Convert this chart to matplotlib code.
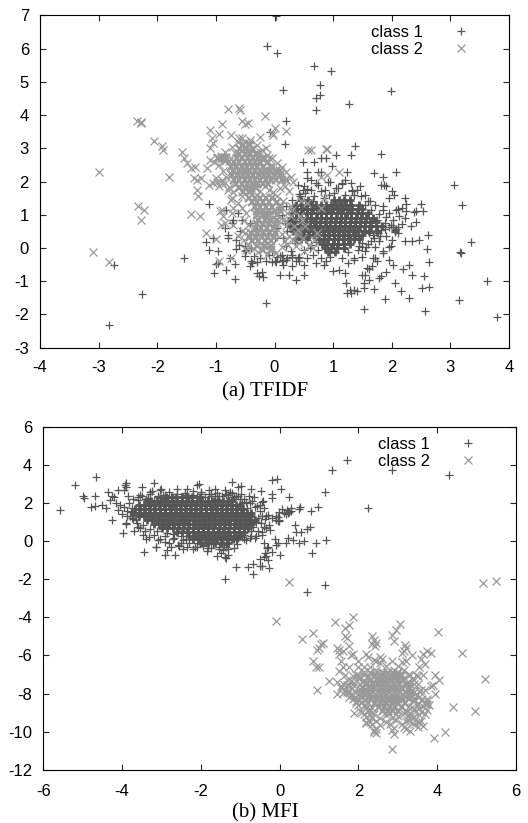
import numpy as np
import matplotlib
matplotlib.use('Agg')
import matplotlib.pyplot as plt

# points (dense cores are estimates)
a1_x = [0.03,-0.12,0.05,0.68,0.97,0.15,0.78,0.77,0.71,0.7,1.27,1.98,0.2,-0.08,0.18,1.37,1.05,1.3,1.82,0.8,0.88,0.48,0.98,2.07,1.23,0.75,0.8,0.55,
 3.07,3.2,3.35,3.17,3.18,3.63,3.15,3.79,2.56,2.63,2.52,2.55,2.63,2.6,2.62,2.5,2.53,2.42,2.38,2.47,2.35,2.33,2.3,2.41,2.22,2.25,2.18,2.04,2.1,2.0,1.87,1.9,1.85,
 2.22,2.3,2.35,2.2,2.15,2.05,2.02,1.95,1.88,1.82,1.78,1.7,1.66,1.62,1.55,1.5,1.52,1.53,1.41,1.36,1.28,1.22,1.23,1.3,1.52,1.9,1.75,1.62,1.58,1.68,1.85,1.95,
 -2.73,-2.82,-2.26,-1.54,-1.12,-0.15,-0.2,-0.26,-0.22,-0.67,-0.82,-1.0,-1.03,-0.96,-0.68,-0.65,-0.42,-0.4,-0.5,-0.76,-1.05,-1.16,-1.12,-0.97,-0.8,-0.82,-0.7,-0.62,-0.55,-0.48,-0.3,-0.1,0.0,0.1,0.14,0.25,0.37,0.5,
 -0.42,-0.3,-0.15,0.12,0.22,0.3,0.42,0.5,0.55,0.7,0.85,0.87,1.0,1.1,1.2,1.25,1.35,0.3,0.36,0.4,-0.5,-0.6,-0.65,-0.8,-0.85,-0.72,-0.58,
 1.55,1.63,1.7,1.82,1.85,1.4,1.3,1.2,1.05,0.92,0.75,0.68,0.55,1.95,1.98,2.1,2.22,2.25,2.05,1.8,1.62,1.45,1.33,1.15,1.02,0.86,0.7,0.62,0.5,0.44,0.52,0.48,
 1.2,1.3,1.42,1.5,1.65,1.76,1.82,1.88,1.7,1.56,1.44,0.3,0.2,0.12,0.02,-0.05,-0.15,-0.3,-0.38,-0.5,-0.35,-0.25,-0.4,0.05,0.15,2.02,2.07,2.1,2.06]
a1_y = [6.97,6.07,5.87,5.48,5.32,4.75,4.9,4.6,4.52,4.15,4.33,4.73,3.82,3.48,3.13,3.08,2.8,2.8,2.83,2.7,2.7,2.58,2.48,2.3,2.3,2.3,2.3,2.3,
 1.9,1.28,0.17,-0.13,-0.15,-0.98,-1.55,-2.07,-1.9,-1.17,-1.2,-0.85,-0.42,-0.03,0.4,1.33,1.12,1.1,1.08,0.25,0.22,0.65,-0.5,0.78,1.5,1.33,1.2,1.6,1.18,1.72,1.88,1.85,2.15,
 0.2,-1.5,-0.8,-0.63,-1.3,-1.05,-0.52,-0.35,-1.52,-0.85,-0.9,-1.22,-0.55,-0.62,-0.82,-0.8,-1.05,-1.2,-1.28,-1.25,-1.25,-1.05,-1.35,-1.35,-1.83,-0.72,-0.4,-0.95,-0.6,-0.3,-0.1,0.02,
 -0.5,-2.33,-1.37,-0.3,1.33,-1.66,-0.88,-0.85,-0.72,-0.92,-0.65,-0.48,-0.75,-0.1,-0.48,-0.02,-0.55,-0.4,-0.25,-0.3,0.3,0.17,-0.05,-0.45,0.3,1.15,0.85,1.05,0.85,-0.05,-0.75,-0.2,-0.4,-0.8,-0.5,-0.8,-0.95,-0.82,
 0.75,0.5,0.9,-0.2,-0.3,-0.55,-0.4,-0.5,-0.3,-0.45,-0.5,-0.4,-0.7,-0.65,-0.75,-0.45,-0.35,-0.2,-0.38,-0.3,0.05,0.1,0.25,0.4,0.6,0.75,0.5,
 1.6,1.4,2.25,1.9,1.25,1.75,1.95,2.05,1.8,2.0,1.9,2.6,2.1,1.5,0.7,0.45,0.9,1.1,0.5,0.35,0.45,1.85,1.7,1.92,1.65,1.75,1.95,1.75,1.85,1.55,1.65,1.75,
 0.48,0.3,0.35,0.15,0.22,0.45,0.62,0.58,0.3,0.02,0.05,-0.28,-0.35,-0.4,-0.42,-0.42,-0.38,-0.42,-0.45,-0.1,-0.25,-0.3,0.0,-0.28,-0.35,0.62,0.58,0.62,0.55]
a2_x = [-3.1,-2.82,-3.0,-2.35,-2.28,-2.27,-2.05,-1.92,-1.9,-1.8,-2.33,-2.22,-2.28,-1.57,-1.55,-1.5,-1.43,-1.42,-1.35,-1.33,-1.3,-1.25,-1.27,-1.32,
 -1.38,-1.1,-1.07,-1.05,-1.1,-0.95,-0.9,-0.8,-0.6,-0.58,-0.55,-0.5,-0.45,-0.17,-0.05,0.0,-0.02,0.2,-0.25,-0.75,
 0.57,0.62,0.87,0.9,1.1,0.8,0.9,0.45,0.55,0.8,0.85,-0.9,-0.92,-0.93,-0.88,-1.17,-1.1,-1.03,-1.0,-1.12,-1.05,-1.15,-0.98,-0.95,-0.8,-0.75,-0.7,-0.72,
 -0.98,-0.92,-0.88,-0.85,-0.82,-0.9,-0.85,-0.6,-0.57,-0.5,-0.48,-0.44,-0.52,-0.47,-0.55,-0.4,-0.3,-0.25,-0.2,-0.15,-0.1,
 0.2,0.28,0.33,0.4,0.47,0.52,0.25,0.32,0.38,0.48,0.22,0.36,0.42,0.6,0.66,0.68,0.72,0.5,0.44,0.3,-0.55,-0.62,-0.7,-0.48,-0.95,-0.85,-0.75,-1.0]
a2_y = [-0.12,-0.42,2.28,3.82,3.78,3.75,3.22,3.08,2.95,2.15,1.25,1.13,0.83,2.9,2.7,2.55,2.4,1.03,2.45,2.05,1.55,2.1,0.95,1.75,
 2.1,3.55,3.3,3.15,3.0,3.42,3.72,4.18,4.2,4.15,3.82,3.72,3.75,3.97,3.45,3.6,3.4,3.52,3.35,3.4,
 2.95,2.95,2.98,2.98,2.3,2.15,2.2,1.4,1.35,1.2,1.5,1.15,0.7,1.1,0.95,0.45,2.65,2.6,2.1,1.9,1.95,2.4,2.0,1.85,1.75,1.45,1.2,1.05,
 2.72,2.78,2.7,2.75,2.66,2.05,1.95,3.3,3.1,3.2,3.05,3.15,3.0,2.9,3.3,2.95,2.85,2.9,2.65,3.0,2.7,
 0.8,0.95,0.65,0.55,0.85,0.65,0.35,0.25,0.42,0.3,0.12,0.05,0.15,0.1,0.0,0.25,0.45,-0.1,0.95,1.15,0.5,0.35,0.7,-0.05,-0.4,0.75,-0.3,0.28]

b1_x = [-5.57,-5.2,-4.65,-5.0,-4.97,-4.68,-4.8,-4.7,-4.5,-4.4,-4.35,-4.3,-4.25,-4.25,-4.2,-4.1,-4.05,-3.95,-3.93,-3.9,-3.9,-3.88,-3.85,-3.98,-3.9,-3.7,-3.6,-3.5,-3.47,-3.45,-3.25,-3.2,-3.15,
 -3.0,-2.9,-2.85,-2.65,-2.45,-2.35,-2.2,-2.05,-1.85,-1.63,-1.45,-1.38,-1.35,-1.2,-1.12,-0.97,-0.8,-0.73,-0.68,-0.68,-0.45,-0.2,-0.5,-0.45,-0.4,-0.3,-0.28,-0.2,-0.2,-0.07,0.03,0.02,
 0.25,0.3,0.5,0.52,0.8,0.97,1.15,1.33,1.72,2.25,2.85,4.3,1.15,1.18,0.82,0.7,0.48,0.55,0.42,0.38,0.22,0.7,0.78,0.92,0.62,0.35,0.15,-0.02,-0.1,-0.2,-0.33,-0.38,-0.1,-0.05,-0.02,0.05,0.1,0.2,0.24,0.3,0.15,0.22,0.18,
 -2.1,-1.75,-1.7,-1.6,-1.47,-1.35,-1.2,-1.05,-0.97,-0.78,-0.65,-0.5,-0.42,-0.47,-0.58,-0.4,-0.35,-0.3,-0.2,-0.28,-0.1,-0.05,
 -3.5,-3.3,-3.1,-2.95,-2.75,-2.6,-2.4,-2.2,-2.0,-1.8,-1.65,-1.3,-1.25,-1.2,-1.1,-1.0,-0.85,-0.7,-1.3,-1.4,-1.5,-1.6,-3.6,-3.4,-3.2,-3.05,-2.9,-2.7,-2.5,-2.3,-2.1,-1.9,
 -3.4,-3.1,-2.9,-2.7,-2.5,-2.3,-2.1,-1.9,-1.7,-1.5,-1.3,-1.1,-0.9,-0.75,-0.6,-0.45,-0.35,-3.15,-2.75,-2.55,-2.35,-2.15,-1.95,-1.75,-1.55,-1.35,-0.25,-0.12,-0.05,-0.02,-0.35,-0.5,-0.3,-0.4,-3.9,-4.0,-4.1,-4.15,-3.75]
b1_y = [1.63,2.95,3.37,2.4,2.25,2.35,1.8,1.87,1.9,1.75,2.6,2.15,2.4,1.1,2.3,2.7,1.9,2.7,2.95,3.05,2.85,1.35,2.4,0.42,0.9,0.55,0.75,2.85,0.35,-0.55,2.65,3.05,-0.3,
 2.75,-0.7,-0.45,-0.7,-0.42,2.75,-0.4,3.0,-0.5,2.75,-0.45,-1.98,-0.9,3.1,-1.35,2.9,-1.35,2.75,-1.2,-1.7,-1.3,3.2,-1.3,2.05,-0.85,-1.0,-1.4,2.5,2.25,3.25,2.75,-0.7,
 2.3,1.75,1.7,1.8,1.6,1.8,2.6,3.75,4.25,1.75,3.75,3.5,-2.3,0.05,-0.6,-2.65,-0.1,0.5,0.5,0.85,0.15,0.65,0.75,-0.1,0.0,0.05,-0.1,1.55,-0.2,-0.55,-0.35,-0.6,1.1,1.25,1.05,1.7,1.5,1.5,1.55,1.6,1.45,1.55,1.65,
 2.95,2.5,1.95,2.2,2.4,2.5,2.3,2.85,2.5,2.35,2.3,1.9,2.1,2.65,1.85,1.75,1.3,1.4,1.2,0.85,1.3,1.05,
 2.35,2.5,2.4,2.45,2.3,2.5,2.55,2.45,2.6,2.5,2.35,2.45,2.6,2.2,2.4,2.2,2.05,2.1,-0.7,-0.85,-0.6,-0.75,2.15,2.2,2.15,2.25,2.2,2.25,2.3,2.25,2.35,2.3,
 0.1,0.05,-0.05,0.1,-0.1,0.1,-0.1,0.1,-0.1,0.1,-0.1,0.05,0.1,0.15,0.3,0.5,0.7,-0.3,-0.3,-0.25,-0.3,-0.3,-0.25,-0.35,-0.3,-0.3,0.6,0.1,-0.1,1.1,-0.8,-0.95,-0.3,-0.1,0.95,1.45,1.65,2.0,1.2]
b2_x = [-0.1,0.25,5.15,5.5,5.22,4.95,4.62,4.4,4.2,3.92,4.02,4.05,3.95,3.85,1.75,1.85,1.65,1.4,1.65,1.5,0.85,0.58,0.95,1.0,1.05,1.1,0.85,0.92,1.0,0.95,1.25,
 2.35,2.4,2.35,2.45,2.42,2.85,2.95,3.05,2.9,3.15,3.2,3.1,3.17,3.35,3.65,3.75,3.85,3.6,3.55,3.7,3.45,3.9,3.95,3.75,3.8,2.85,2.9,2.45,2.4,2.85,2.3,3.5,3.55,3.65,3.2,3.4,3.25,
 1.45,1.5,1.55,1.6,1.7,1.75,1.8,1.85,1.6,1.5,1.65,1.75,1.45,1.55,1.7,2.0,2.15,2.25,2.3,2.45,1.85,1.95,2.05,2.2,1.45,1.55,1.65,1.75,1.9,2.05,1.7,1.85,1.95,2.1,2.25,
 1.6,1.75,1.9,2.05,2.2,2.35,3.1,3.25,3.4,1.75,1.9,2.05,3.25,3.4,3.55,3.7,1.9,2.05,3.4,3.55,
 2.0,3.5,3.65,3.75,2.1,2.25,3.3,3.45,3.6,3.75,2.2,2.35,3.25,3.4,3.55,3.7,
 2.2,2.3,3.35,2.15,2.3,3.3,2.2,2.45,2.7,2.95,3.2,3.35,3.5,2.4,2.55,3.2,
 2.0,2.15,2.3,3.3,3.5,3.65,1.95,2.1,2.25,3.4,3.6,3.75,2.2,2.35,2.55,2.8,3.1,3.35,3.6,2.4,2.45,2.9,3.15,3.3]
b2_y = [-4.17,-2.12,-2.2,-2.1,-7.22,-8.9,-5.85,-8.7,-10.0,-10.35,-4.75,-7.3,-7.05,-7.6,-4.4,-4.0,-4.55,-4.25,-5.0,-5.7,-4.8,-5.15,-5.7,-5.6,-5.4,-5.35,-6.3,-6.6,-6.6,-7.8,-7.35,
 -5.0,-5.2,-5.4,-5.35,-5.5,-4.95,-4.65,-4.35,-5.25,-5.75,-5.6,-5.85,-5.45,-6.0,-5.9,-5.75,-5.85,-6.2,-6.6,-6.45,-7.0,-7.55,-8.0,-8.3,-8.6,-10.9,-10.15,-9.85,-10.0,-9.9,-9.5,-9.75,-9.5,-9.7,-9.85,-9.6,-9.4,
 -5.6,-5.9,-6.3,-5.75,-5.1,-5.5,-6.0,-5.9,-6.6,-6.8,-7.0,-6.6,-7.4,-7.7,-7.9,-6.3,-6.6,-6.1,-6.85,-6.3,-8.3,-8.5,-7.2,-5.9,-8.0,-7.6,-7.85,-8.2,-9.0,-8.9,-7.3,-7.1,-7.0,-7.4,-7.2,
 -7.5,-7.55,-7.45,-7.5,-7.4,-7.5,-7.35,-7.4,-7.5,-7.9,-7.85,-7.95,-7.8,-7.9,-7.85,-7.8,-8.25,-8.2,-8.3,-8.2,
 -8.6,-8.55,-8.65,-8.55,-8.95,-8.9,-9.0,-8.9,-8.95,-8.85,-9.25,-9.3,-9.2,-9.25,-9.15,-9.1,
 -8.75,-8.8,-8.7,-9.1,-9.15,-9.05,-9.5,-9.45,-9.5,-9.4,-9.45,-9.3,-9.5,-6.25,-6.1,-6.3,
 -7.05,-7.0,-6.9,-7.0,-7.1,-7.0,-8.4,-8.45,-8.5,-8.4,-8.35,-8.4,-9.55,-9.6,-9.65,-9.6,-9.6,-9.55,-9.45,-9.9,-10.05,-9.8,-9.75,-9.95]

# thinner scatter right around the blobs
a1_halo = [(0.42,1.62),(0.55,1.78),(0.68,1.55),(0.8,1.72),(0.93,1.58),(1.08,1.8),(1.2,1.6),(1.33,1.75),(1.47,1.55),(1.6,1.42),(1.72,1.3),(1.85,1.15),(1.95,1.05),(2.02,0.85),
 (1.95,0.62),(2.05,0.48),(1.9,0.35),(1.78,0.22),(1.68,0.38),(1.6,0.12),(1.72,0.02),(1.55,-0.1),(1.42,-0.05),(1.5,-0.28),(1.35,-0.3),(1.25,-0.12),(1.15,-0.3),(0.75,-0.05),(0.65,-0.22),(0.62,0.08),
 (0.5,-0.05),(0.42,-0.28),(0.35,0.15),(0.28,-0.1),(0.2,0.05),(0.22,0.5),(0.15,0.3),(0.18,0.75),(0.12,1.0),(0.2,1.25),(0.3,1.45),(0.4,1.9),(0.62,2.05),(0.95,2.0),(1.15,1.95),(1.35,1.6),
 (1.75,0.85),(1.88,0.75),(1.82,0.55),(1.5,0.02),(0.95,-0.28),(0.8,-0.3),(0.55,0.25),(0.65,1.42),(0.85,1.5),(1.55,1.3),(1.65,1.15),(1.78,1.02),(1.9,0.92),(0.7,0.18),(0.6,0.0),
 (2.12,0.95),(2.18,0.72),(2.08,1.15),(2.0,0.25),(1.98,0.05),(1.85,-0.15),(1.72,-0.3),(0.05,0.6),(0.0,0.3),(-0.05,-0.1),(0.1,-0.25)]
a2_halo = [(-0.95,2.5),(-0.88,2.32),(-0.82,2.15),(-0.9,1.95),(-0.78,1.82),(-0.7,1.68),(-0.72,1.5),(-0.62,1.35),(-0.55,1.55),(-0.68,2.85),(-0.78,2.62),(-0.85,2.9),(-0.72,3.05),(-0.62,3.2),(-0.42,3.25),
 (-0.3,3.1),(-0.22,2.95),(-0.12,2.8),(-0.05,2.7),(0.05,2.55),(0.12,2.45),(0.2,2.3),(0.28,2.15),(0.32,2.0),(0.18,1.85),(0.25,1.7),(0.1,1.8),(0.05,1.55),(0.15,1.4),(-0.02,1.68),
 (-0.1,1.75),(-0.25,1.72),(-0.3,1.6),(-0.55,1.2),(-0.48,1.05),(-0.52,0.85),(-0.45,0.7),(-0.5,0.45),(-0.52,0.25),(-0.45,0.1),(-0.35,-0.02),(-0.28,-0.12),(-0.12,-0.2),(0.02,-0.15),(0.12,0.02),
 (0.18,0.22),(0.12,0.42),(0.2,0.65),(0.15,0.85),(0.22,1.05),(0.28,1.25),(-0.2,1.95),(-0.05,2.15),(-0.15,2.35),(0.02,2.35),(-0.85,2.62),(-0.65,2.5),(-0.6,1.85),(-0.42,1.75),(0.08,1.25),(0.05,0.75)]
b1_halo = [(-3.55,2.45),(-3.3,2.6),(-3.05,2.7),(-2.8,2.6),(-2.6,2.75),(-2.4,2.45),(-2.2,2.65),(-2.0,2.5),(-1.8,2.7),(-1.6,2.55),(-1.4,2.7),(-1.2,2.55),(-1.05,2.35),(-0.9,2.2),(-0.75,2.0),(-0.62,1.8),(-0.5,1.6),
 (-0.45,1.35),(-0.38,1.15),(-0.48,0.95),(-0.4,0.75),(-0.55,0.55),(-0.45,0.35),(-0.62,0.15),(-0.72,0.3),(-0.85,0.05),(-0.95,0.2),(-1.08,-0.15),(-1.15,-0.35),(-1.3,-0.42),(-1.42,-0.18),(-1.55,-0.4),(-1.68,-0.15),(-1.82,-0.35),(-1.95,-0.18),(-2.1,-0.3),
 (-2.3,-0.1),(-2.45,0.05),(-2.58,-0.2),(-2.68,0.15),(-2.8,-0.1),(-2.92,0.25),(-3.05,0.1),(-3.2,0.35),(-3.32,0.2),(-3.42,0.55),(-3.55,0.7),(-3.62,0.95),(-3.72,1.15),(-3.8,1.35),(-3.88,1.6),(-3.95,1.8),(-3.82,2.0),(-3.72,2.2),(-3.6,2.3),
 (-0.55,1.2),(-0.6,1.0),(-0.68,0.75),(-0.72,0.55),(-0.75,1.5),(-0.82,1.75),(-0.95,2.0),(-1.15,2.3),(-1.35,2.45),(-1.55,2.35),(-1.75,2.4),(-2.9,2.45),(-3.1,2.3),(-3.35,2.25),(-3.75,1.75),(-3.78,1.55),(-3.65,1.1),(-3.48,0.85),(-3.3,0.65),(-3.12,0.55),(-2.85,0.45),(-2.7,0.4),(-2.5,0.25),(-2.38,0.1),(-1.15,0.1),(-1.05,0.15),(-0.9,0.35)]
b2_halo = [(2.0,-6.6),(2.15,-6.85),(2.3,-6.6),(2.45,-6.75),(2.55,-6.4),(2.7,-6.55),(2.85,-6.3),(3.0,-6.55),(3.15,-6.75),(3.25,-7.0),(3.38,-7.25),(3.5,-7.5),(3.58,-7.8),(3.48,-8.1),(3.62,-8.3),(3.5,-8.55),(3.4,-8.85),(3.25,-8.7),(3.15,-9.0),(3.0,-9.2),
 (2.85,-9.3),(2.7,-9.15),(2.55,-9.3),(2.4,-9.05),(2.28,-8.85),(2.15,-8.6),(2.0,-8.35),(1.85,-8.1),(1.75,-7.85),(1.9,-7.6),(1.8,-7.35),(1.98,-7.15),(2.1,-7.4),(2.25,-7.1),(1.95,-7.9),(2.05,-8.1),(2.42,-6.95),(3.1,-7.05),(3.3,-7.5),(3.42,-7.9),
 (3.38,-8.4),(3.22,-8.95),(2.95,-9.05),(2.35,-8.75),(2.2,-8.35),(2.6,-7.0),(2.78,-9.0),(2.9,-6.75),(3.1,-6.35),(2.6,-6.2),(3.55,-8.75),(3.68,-8.55),(1.7,-7.55),(1.6,-7.95)]

# overlapping marks inside the solid blobs, one row per y level
a1_core_y = [1.45,1.3,1.17,1.04,0.91,0.78,0.65,0.52,0.39,0.26,0.13,0.0,-0.13]
a1_core_x = [[0.46,0.57,1.02,1.1,1.19,1.28],
 [0.36,0.45,0.53,0.63,0.7,0.8,0.88,0.97,1.05,1.14,1.22,1.31,1.44],
 [0.31,0.39,0.48,0.56,0.66,0.74,0.82,0.91,0.99,1.08,1.16,1.25,1.33,1.42,1.5],
 [0.29,0.37,0.46,0.55,0.63,0.72,0.8,0.88,0.97,1.06,1.14,1.23,1.31,1.4,1.49,1.6],
 [0.28,0.36,0.45,0.53,0.62,0.71,0.79,0.87,0.96,1.05,1.13,1.21,1.3,1.39,1.47,1.56,1.68],
 [0.25,0.34,0.43,0.52,0.6,0.68,0.77,0.86,0.94,1.03,1.11,1.2,1.28,1.37,1.45,1.54,1.63,1.73],
 [0.26,0.35,0.44,0.52,0.61,0.7,0.78,0.87,0.95,1.04,1.12,1.2,1.29,1.38,1.46,1.55,1.64,1.73,1.84],
 [0.31,0.39,0.48,0.57,0.65,0.74,0.82,0.91,0.99,1.08,1.16,1.25,1.34,1.43,1.52,1.62,1.74],
 [0.41,0.5,0.58,0.67,0.76,0.84,0.93,1.01,1.1,1.18,1.27,1.38,1.49],
 [0.36,0.45,0.54,0.76,0.84,0.92,1.01,1.09,1.17,1.26,1.35,1.44],
 [0.81,0.9,0.99,1.08,1.18,1.29],
 [0.86,0.97,1.07,1.19],
 [0.91,1.04]]
a2_core_y = [3.1,2.97,2.84,2.71,2.58,2.45,2.32,2.19,2.06,1.93,1.8,1.67,1.5,1.37,1.24,1.11,0.98,0.85,0.72,0.59,0.46,0.33,0.2,0.07,-0.06]
a2_core_x = [[-0.54,-0.42],
 [-0.59,-0.49,-0.37],
 [-0.6,-0.51,-0.42,-0.31],
 [-0.97,-0.89,-0.82,-0.64,-0.55,-0.46,-0.37,-0.28,-0.2],
 [-0.69,-0.6,-0.51,-0.42,-0.33,-0.24,-0.11],
 [-0.74,-0.65,-0.56,-0.47,-0.38,-0.29,-0.2,-0.06],
 [-0.7,-0.61,-0.52,-0.43,-0.34,-0.25,-0.16,-0.07,0.02,0.09],
 [-0.72,-0.63,-0.54,-0.45,-0.36,-0.27,-0.18,-0.09,0.0,0.1],
 [-0.69,-0.6,-0.51,-0.42,-0.33,-0.24,-0.15,-0.06,0.03,0.12,0.2],
 [-0.65,-0.56,-0.47,-0.38,-0.29,-0.2,-0.11],
 [-0.6,-0.5,-0.4,-0.31],
 [-0.54,-0.41],
 [-0.44,-0.34,-0.24,-0.14,-0.05],
 [-0.39,-0.29,-0.19,-0.09,0.04],
 [-0.34,-0.24,-0.14,-0.04,0.09],
 [-0.3,-0.2,-0.1,0.0,0.1],
 [-0.3,-0.2,-0.1,0.05],
 [-0.28,-0.17,-0.07,0.04],
 [-0.3,-0.19,-0.09,0.0],
 [-0.34,-0.23,-0.12,-0.01],
 [-0.4,-0.3,-0.2,-0.1,0.0],
 [-0.41,-0.31,-0.21,-0.11,-0.01],
 [-0.39,-0.28,-0.17,-0.06],
 [-0.3,-0.18,-0.06],
 [-0.2,-0.06]]
b1_core_y = [2.3,2.1,1.9,1.7,1.5,1.3,1.1,0.9,0.7,0.5,0.3,0.1,-0.1]
b1_core_x = [[-2.88,-2.74,-2.62,-2.48,-2.36,-2.22,-2.02],
 [-3.38,-3.26,-3.12,-3.0,-2.87,-2.74,-2.61,-2.48,-2.35,-2.22,-2.09,-1.96,-1.83,-1.7,-1.57,-1.44,-1.31,-1.2],
 [-3.58,-3.45,-3.32,-3.19,-3.06,-2.93,-2.8,-2.67,-2.54,-2.41,-2.28,-2.15,-2.02,-1.89,-1.76,-1.63,-1.5,-1.37,-1.24,-1.11,-1.0],
 [-3.68,-3.55,-3.42,-3.29,-3.16,-3.03,-2.9,-2.77,-2.64,-2.51,-2.38,-2.25,-2.12,-1.99,-1.86,-1.73,-1.6,-1.47,-1.34,-1.21,-1.08,-0.92],
 [-3.7,-3.57,-3.44,-3.31,-3.18,-3.05,-2.92,-2.79,-2.66,-2.53,-2.4,-2.27,-2.14,-2.01,-1.88,-1.75,-1.62,-1.49,-1.36,-1.23,-1.1,-0.97,-0.84,-0.74],
 [-3.58,-3.45,-3.32,-3.19,-3.06,-2.93,-2.8,-2.67,-2.54,-2.41,-2.28,-2.15,-2.02,-1.89,-1.76,-1.63,-1.5,-1.37,-1.24,-1.11,-0.98,-0.85,-0.72],
 [-3.38,-3.25,-3.12,-2.99,-2.86,-2.73,-2.6,-2.47,-2.34,-2.21,-2.08,-1.95,-1.82,-1.69,-1.56,-1.43,-1.3,-1.17,-1.04,-0.91,-0.78,-0.62],
 [-3.2,-3.07,-2.94,-2.81,-2.68,-2.55,-2.42,-2.29,-2.16,-2.03,-1.9,-1.77,-1.64,-1.51,-1.38,-1.25,-1.12,-0.99,-0.86,-0.72],
 [-2.98,-2.85,-2.72,-2.59,-2.46,-2.33,-2.2,-2.07,-1.94,-1.81,-1.68,-1.55,-1.42,-1.29,-1.16,-1.03,-0.9,-0.8],
 [-2.6,-2.47,-2.34,-2.21,-2.08,-1.95,-1.82,-1.69,-1.56,-1.43,-1.3,-1.17,-1.04,-0.91],
 [-2.3,-2.16,-2.03,-1.9,-1.77,-1.64,-1.51,-1.38,-1.25,-1.12,-1.0],
 [-2.2,-2.05,-1.9,-1.75,-1.6,-1.47,-1.34,-1.2],
 [-2.0,-1.82,-1.65,-1.48,-1.32]]
b2_core_y = [-6.9,-7.1,-7.3,-7.5,-7.7,-7.9,-8.1,-8.3,-8.5,-8.7,-8.9]
b2_core_x = [[2.62,2.76,2.88,3.0],
 [2.42,2.56,2.7,2.84,2.97,3.09],
 [2.32,2.46,2.6,2.73,2.86,3.0,3.14],
 [2.22,2.36,2.5,2.63,2.76,2.9,3.04,3.24],
 [2.12,2.26,2.4,2.54,2.67,2.8,2.94,3.08,3.29],
 [2.11,2.24,2.38,2.52,2.65,2.78,2.92,3.06,3.2,3.34],
 [2.16,2.3,2.44,2.57,2.7,2.84,2.98,3.12,3.34],
 [2.31,2.45,2.6,2.73,2.86,3.0,3.14,3.29],
 [2.42,2.56,2.7,2.84,2.98,3.18],
 [2.52,2.66,2.8,2.94,3.1],
 [2.62,2.76,2.88,3.0]]

xticks_a = [-4,-3,-2,-1,0,1,2,3,4]
yticks_a = [-3,-2,-1,0,1,2,3,4,5,6,7]
xticks_b = [-6,-4,-2,0,2,4,6]
yticks_b = [-12,-10,-8,-6,-4,-2,0,2,4,6]

W, H = 528, 823
dark = '#555555'
light = '#999999'
plt.rcParams['font.family'] = ['Liberation Sans', 'DejaVu Sans']
plt.rcParams['font.size'] = 12
plt.rcParams['axes.unicode_minus'] = False

def flatten(core_y, core_x):
    xs, ys = [], []
    for y, row in zip(core_y, core_x):
        xs += row
        ys += [y]*len(row)
    return xs, ys

def panel(rect, x1, y1, h1, x2, y2, h2, core1, core2, xt, yt, caption, cap_y, xpad):
    l, t, r, b = rect
    ax = fig.add_axes([l/W, 1-b/H, (r-l)/W, (b-t)/H])
    hx, hy = zip(*h1)
    ax.plot(x1 + list(hx), y1 + list(hy), '+', color=dark, ms=5.8, mew=0.9, label='class 1')
    cx, cy = flatten(*core1)
    ax.plot(cx, cy, '+', color=dark, ms=6, mew=2.0)
    hx, hy = zip(*h2)
    ax.plot(x2 + list(hx), y2 + list(hy), 'x', color=light, ms=6, mew=0.9, label='class 2')
    cx, cy = flatten(*core2)
    ax.plot(cx, cy, 'x', color=light, ms=6, mew=1.6)
    ax.set_xlim(xt[0], xt[-1])
    ax.set_ylim(yt[0], yt[-1])
    ax.set_xticks(xt)
    ax.set_yticks(yt)
    ax.tick_params(direction='in', top=True, right=True, length=4.5, width=0.8, color='#222222')
    ax.tick_params(axis='x', pad=xpad)
    ax.tick_params(axis='y', pad=8)
    anchor = (1-39.7/(r-l), 1-10/(b-t))
    ax.legend(loc='upper right', bbox_to_anchor=anchor, frameon=False, markerfirst=False,
              handlelength=1.0, handletextpad=1.8, labelspacing=0.1, borderpad=0, borderaxespad=0,
              fontsize=12)
    fig.text(265/W, 1-cap_y/H, caption, family='Liberation Serif', fontsize=15, ha='center', va='center')
    return ax

fig = plt.figure(figsize=(W/100, H/100), dpi=100)
panel((40, 15.3, 509, 347.7), a1_x, a1_y, a1_halo, a2_x, a2_y, a2_halo, (a1_core_y, a1_core_x), (a2_core_y, a2_core_x),
      xticks_a, yticks_a, '(a) TFIDF', 392, 9)
panel((43.3, 427, 516, 769.7), b1_x, b1_y, b1_halo, b2_x, b2_y, b2_halo, (b1_core_y, b1_core_x), (b2_core_y, b2_core_x),
      xticks_b, yticks_b, '(b) MFI', 813, 10)
fig.savefig('out.png', dpi=100)
